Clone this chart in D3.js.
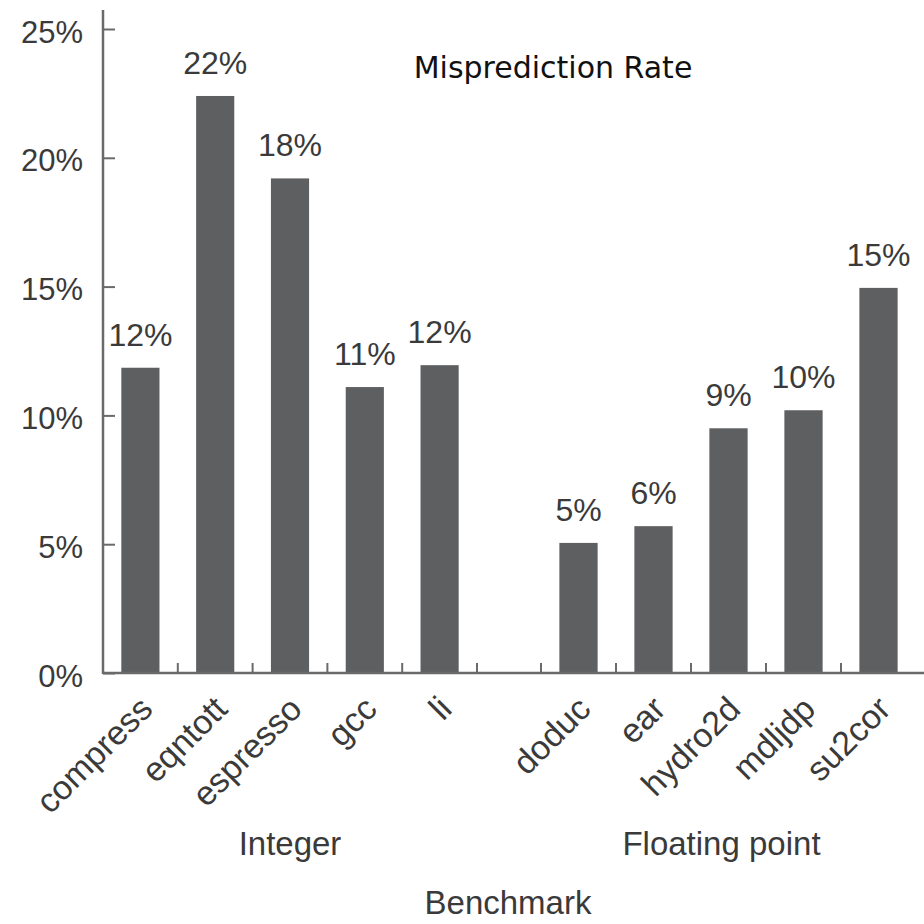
<!DOCTYPE html>
<html lang="en">
<head>
    <meta charset="UTF-8">
    <title>Misprediction Rate</title>
    <script src="https://d3js.org/d3.v7.min.js"></script>
    <style>
        body { margin: 0; background: #fff; }
        text { font-family: "Liberation Sans", Arial, sans-serif; fill: #3a3a3a; }
    </style>
</head>
<body>
    <div id="chart"></div>
    <script>
        // data
        var intNames = ["compress", "eqntott", "espresso", "gcc", "li"];
        var intRates = [11.85, 22.4, 19.2, 11.1, 11.95];
        var intLabels = ["12%", "22%", "18%", "11%", "12%"];
        var fpNames = ["doduc", "ear", "hydro2d", "mdljdp", "su2cor"];
        var fpRates = [5.05, 5.7, 9.5, 10.2, 14.95];
        var fpLabels = ["5%", "6%", "9%", "10%", "15%"];
        var yTicks = [0, 5, 10, 15, 20, 25];
        var groupNames = ["Integer", "Floating point"];

        var width = 924, height = 924;
        var barColor = "#5e5f61", axisColor = "#6a6a6a";

        var svg = d3.select("#chart")
            .append("svg")
            .attr("width", width)
            .attr("height", height);

        var y = d3.scaleLinear()
            .domain([0, 25])
            .range([673, 29]);

        var xInt = d3.scaleBand()
            .domain(intNames)
            .range([103, 477])
            .paddingInner(0.49)
            .paddingOuter(0.245);
        var xFp = d3.scaleBand()
            .domain(fpNames)
            .range([541, 916])
            .paddingInner(0.49)
            .paddingOuter(0.245);

        var groups = [
            { x: xInt, names: intNames, rates: intRates, labels: intLabels },
            { x: xFp, names: fpNames, rates: fpRates, labels: fpLabels }
        ];

        // y axis
        var yAxis = svg.append("g")
            .attr("transform", "translate(103,0)")
            .call(d3.axisLeft(y)
                .tickValues(yTicks)
                .tickSizeInner(-12)
                .tickSizeOuter(0)
                .tickPadding(20)
                .tickFormat(function (d) { return d + "%"; }));
        yAxis.select(".domain").remove();
        yAxis.selectAll("line").attr("stroke", axisColor).attr("stroke-width", 2);
        yAxis.selectAll("text")
            .attr("font-size", 31)
            .attr("font-family", "Liberation Sans, Arial, sans-serif")
            .attr("fill", "#3a3a3a")
            .attr("dy", "0.42em");

        svg.append("line")
            .attr("x1", 103).attr("x2", 103)
            .attr("y1", y(0) + 1).attr("y2", y(25) - 19)
            .attr("stroke", axisColor)
            .attr("stroke-width", 2.5);

        // bars, value labels, category labels
        groups.forEach(function (g, gi) {
            var rows = g.names.map(function (n, i) {
                return { name: n, rate: g.rates[i], label: g.labels[i] };
            });
            var gap = g.x.step() - g.x.bandwidth();

            svg.selectAll(null)
                .data(rows)
                .enter().append("rect")
                .attr("x", function (d) { return g.x(d.name); })
                .attr("y", function (d) { return y(d.rate); })
                .attr("width", g.x.bandwidth())
                .attr("height", function (d) { return y(0) - y(d.rate); })
                .attr("fill", barColor);

            svg.selectAll(null)
                .data(rows)
                .enter().append("text")
                .attr("x", function (d) { return g.x(d.name) + g.x.bandwidth() / 2; })
                .attr("y", function (d) { return y(d.rate) - 22; })
                .attr("text-anchor", "middle")
                .attr("font-size", 32)
                .text(function (d) { return d.label; });

            svg.selectAll(null)
                .data(rows)
                .enter().append("text")
                .attr("text-anchor", "end")
                .attr("font-size", 34)
                .attr("transform", function (d) {
                    var cx = g.x(d.name) + g.x.bandwidth() / 2 + 14;
                    return "translate(" + cx + "," + (y(0) + 38) + ") rotate(-45)";
                })
                .text(function (d) { return d.name; });

            // small ticks between the bars: after each integer bar, before each fp bar
            var tickX = function (d) {
                return gi === 0 ? g.x(d) + g.x.bandwidth() + gap / 2 : g.x(d) - gap / 2;
            };
            svg.selectAll(null)
                .data(g.names)
                .enter().append("line")
                .attr("x1", tickX)
                .attr("x2", tickX)
                .attr("y1", y(0))
                .attr("y2", y(0) - 10)
                .attr("stroke", axisColor)
                .attr("stroke-width", 2);

            var r = g.x.range();
            svg.append("text")
                .attr("x", gi === 0 ? (r[0] + r[1]) / 2 : (r[0] + r[1]) / 2 - 7)
                .attr("y", 855)
                .attr("text-anchor", "middle")
                .attr("font-size", 33)
                .text(groupNames[gi]);
        });

        // x axis line
        svg.append("line")
            .attr("x1", 103).attr("x2", width)
            .attr("y1", y(0)).attr("y2", y(0))
            .attr("stroke", axisColor)
            .attr("stroke-width", 2.5);

        svg.append("text")
            .attr("x", 508)
            .attr("y", 914)
            .attr("text-anchor", "middle")
            .attr("font-size", 33)
            .text("Benchmark");

        svg.append("text")
            .attr("x", 553)
            .attr("y", 78)
            .attr("text-anchor", "middle")
            .style("font-family", "DejaVu Sans, sans-serif")
            .style("fill", "#111")
            .attr("font-size", 30)
            .text("Misprediction Rate");
    </script>
</body>
</html>
